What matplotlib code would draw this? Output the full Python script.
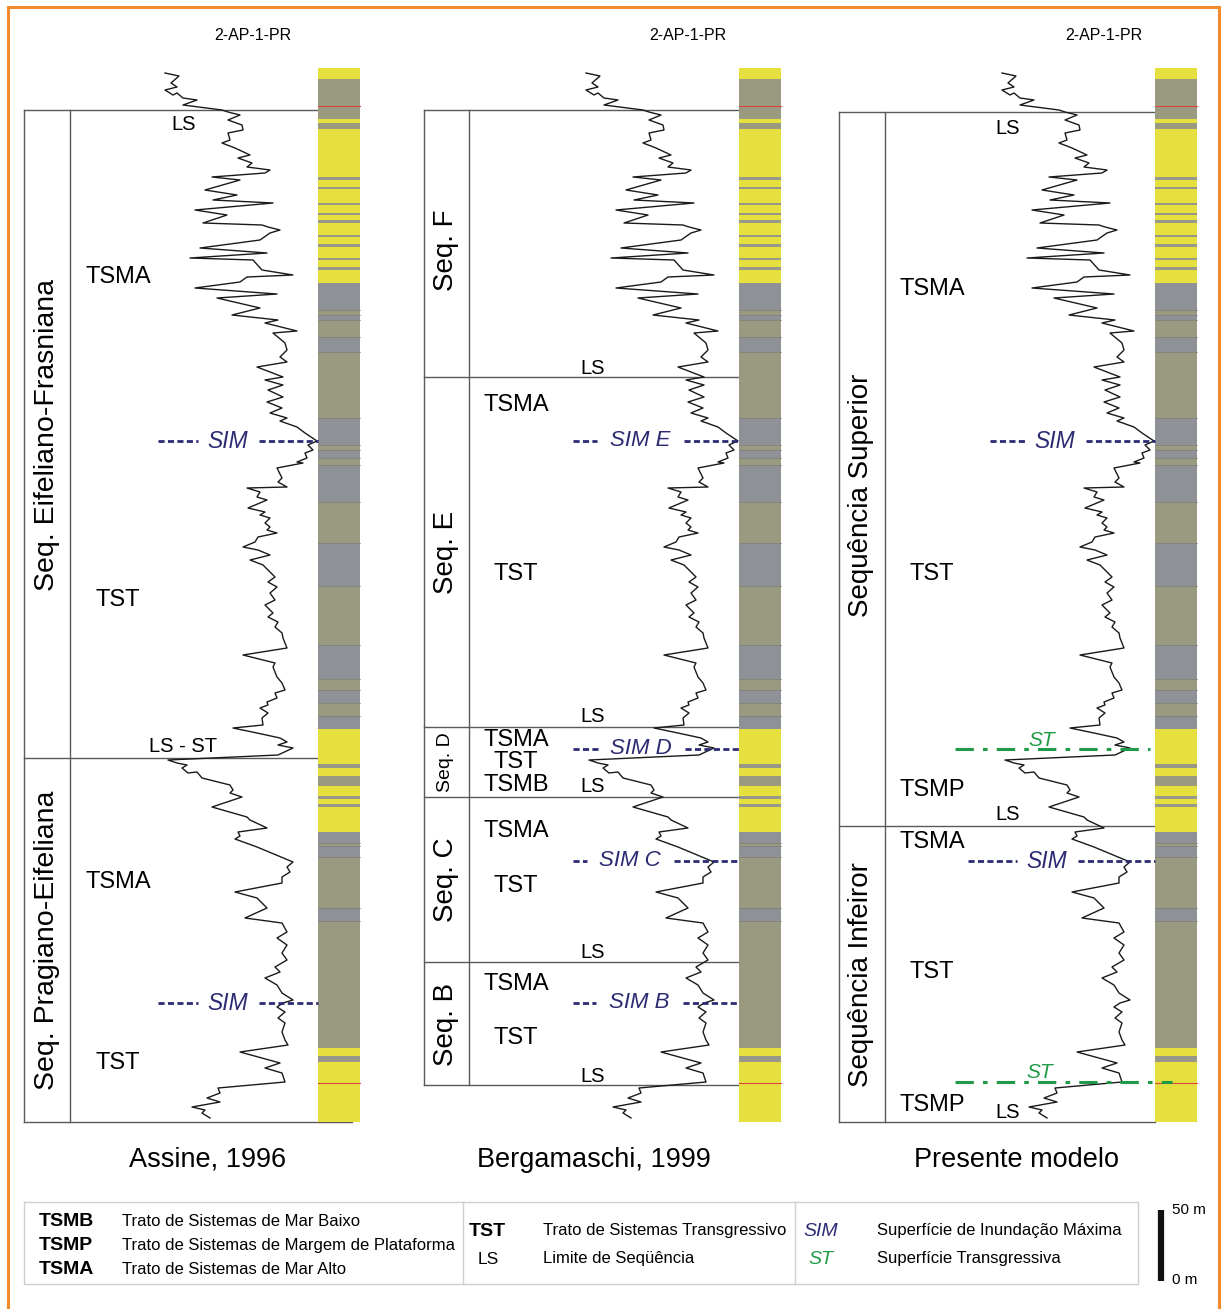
import matplotlib
matplotlib.use("Agg")
import matplotlib.pyplot as plt
import numpy as np

plt.rcParams['font.family'] = ['Liberation Sans', 'DejaVu Sans']

# ---------------- data ----------------
# gamma-ray style log (value = horizontal position in panel-1 frame, depth = vertical log position)
gr_value = [165,179,171,177,165,173,177,183,197,183,222,228,240,228,242,243,228,230,222,235,
            250,238,252,247,270,265,212,240,205,237,213,273,195,227,203,262,268,280,270,260,
            200,267,190,253,262,293,247,240,195,277,217,260,232,278,265,297,273,285,287,280,
            287,257,283,265,283,268,283,267,282,270,287,280,297,305,317,308,313,305,307,297,
            303,277,282,278,287,247,260,257,267,248,265,260,270,265,270,267,277,258,255,243,
            258,270,250,263,275,268,277,270,275,265,273,268,278,275,282,283,287,243,275,273,
            277,282,285,275,277,267,268,260,268,262,263,233,257,280,287,278,293,278,168,177,
            187,182,188,197,202,230,233,230,242,233,212,247,250,267,238,240,235,257,293,287,
            290,282,282,235,257,267,245,282,287,277,287,282,287,275,280,265,277,282,293,283,
            277,285,278,285,282,285,288,240,280,265,282,285,218,220,207,220,192,205,202,210]
gr_depth = [73,76,83,87,90,95,93,98,100,105,110,112,115,120,125,130,133,140,143,148,
            155,158,163,167,170,173,177,180,190,195,200,203,210,215,223,225,227,230,233,240,
            248,253,258,260,270,275,277,282,288,294,298,308,315,320,323,331,333,343,350,357,
            362,367,377,380,385,390,397,402,408,413,418,421,427,433,441,445,450,453,458,462,
            463,468,478,482,487,488,492,497,500,508,512,515,518,523,527,530,533,537,542,547,
            550,555,560,565,577,582,587,593,600,605,613,617,622,627,633,638,648,655,663,667,
            677,683,690,693,698,702,705,708,713,718,725,728,733,738,742,745,748,755,760,763,
            765,768,773,772,778,785,790,793,797,800,807,817,820,828,832,836,839,847,862,867,
            872,877,883,892,898,908,918,923,932,938,945,953,960,967,972,978,985,993,1000,1003,
            1007,1012,1018,1023,1032,1040,1045,1052,1063,1068,1073,1082,1088,1093,1098,1102,1107,1110,1113,1118]

# lithology column: top, base, class
lith_top  = [68,79,119,123,129,177,180,187,189,203,205,213,215,220,223,235,237,244,247,258,260,267,270,
             283,310,315,320,337,352,418,445,450,458,465,502,543,586,645,679,690,703,716,
             729,764,768,776,786,796,799,804,807,832,843,846,857,908,921,1048,1056,1062]
lith_base = lith_top[1:] + [1122]
lith_kind = ['Y','O','Y','O','Y','S','Y','S','Y','S','Y','S','Y','S','Y','S','Y','S','Y','S','Y','S','Y',
             'G','O','G','O','G','O','G','O','G','O','G','O','G','O','G','O','G','O','G',
             'Y','S','Y','O','Y','S','Y','S','Y','G','O','G','O','G','O','Y','S','Y']
red_marks = [106, 1083]

panel_names = ['Assine, 1996', 'Bergamaschi, 1999', 'Presente modelo']
well_name = '2-AP-1-PR'

# ---------------- layout (pixels) ----------------
W, H = 1225, 1309
offsets = [0, 421, 837]
col_left, col_w = 318, 42
title_x = [253, 688, 1104]
name_x = [208, 594, 1016]

box_left  = [24, 424, 839]
box_inner = [70, 469, 885]
box_right = [318, 739, 1155]
box_top   = [110, 110, 112]
box_bot   = [1122, 1085, 1122]
box_bot_right = [352, 739, 1155]
box_hlines = [[758], [377, 727, 797, 962], [826]]

seq_labels = [
    (0, 'Seq. Eifeliano-Frasniana', 435, 20.5), (0, 'Seq. Pragiano-Eifeliana', 940, 20.5),
    (1, 'Seq. F', 250, 20), (1, 'Seq. E', 552, 20), (1, 'Seq. D', 762, 14),
    (1, 'Seq. C', 880, 20), (1, 'Seq. B', 1024, 20),
    (2, 'Sequência Superior', 495, 20), (2, 'Sequência Infeiror', 975, 20),
]
seq_x = [47, 446, 861]

tract_labels = [
    (118, 277, 'TSMA'), (118, 600, 'TST'), (118, 882, 'TSMA'), (118, 1063, 'TST'),
    (516, 405, 'TSMA'), (516, 574, 'TST'), (516, 740, 'TSMA'), (516, 762, 'TST'), (516, 785, 'TSMB'),
    (516, 831, 'TSMA'), (516, 886, 'TST'), (516, 984, 'TSMA'), (516, 1038, 'TST'),
    (932, 289, 'TSMA'), (932, 574, 'TST'), (932, 790, 'TSMP'), (932, 842, 'TSMA'),
    (932, 972, 'TST'), (932, 1105, 'TSMP'),
]
ls_labels = [
    (184, 124, 'LS'), (183, 747, 'LS - ST'),
    (593, 368, 'LS'), (593, 716, 'LS'), (593, 787, 'LS'), (593, 952, 'LS'), (593, 1076, 'LS'),
    (1008, 128, 'LS'), (1008, 815, 'LS'), (1008, 1112, 'LS'),
]
sim_lines = [
    (441, 158, 318, 'SIM', 228), (1003, 158, 318, 'SIM', 228),
    (441, 573, 739, 'SIM E', 640), (749, 573, 739, 'SIM D', 641),
    (861, 573, 739, 'SIM C', 630), (1003, 573, 739, 'SIM B', 639),
    (441, 990, 1155, 'SIM', 1055), (861, 968, 1155, 'SIM', 1047),
]
st_lines = [(749, 955, 1150, 'ST', 1042), (1082, 955, 1172, 'ST', 1040)]

colors = {'Y': '#e6e03e', 'O': '#9a9a80', 'G': '#8e9196', 'S': '#98988a'}
NAVY = '#2b2a72'
GREEN = '#1f9a46'
BOXC = '#5a5a5a'

fig = plt.figure(figsize=(W / 100, H / 100), dpi=100)
ax = fig.add_axes([0, 0, 1, 1])
ax.set_xlim(0, W)
ax.set_ylim(H, 0)
ax.axis('off')

# orange frame
ax.plot([8, 8, 1219, 1219], [1320, 7, 7, 1320], color='#f2892a', lw=2.2, solid_joinstyle='miter')

gv = np.array(gr_value, float)
gd = np.array(gr_depth, float)
lt = np.array(lith_top, float)
lb = np.array(lith_base, float)

for p in range(3):
    off = offsets[p]
    # box
    ax.plot([box_left[p], box_left[p]], [box_top[p], box_bot[p]], color=BOXC, lw=1.0)
    ax.plot([box_inner[p], box_inner[p]], [box_top[p], box_bot[p]], color=BOXC, lw=1.0)
    ax.plot([box_left[p], box_right[p]], [box_top[p], box_top[p]], color=BOXC, lw=1.0)
    ax.plot([box_left[p], box_bot_right[p]], [box_bot[p], box_bot[p]], color=BOXC, lw=1.0)
    for hy in box_hlines[p]:
        ax.plot([box_left[p], box_right[p]], [hy, hy], color=BOXC, lw=1.0)
    # lithology column
    ax.bar([col_left + off + col_w / 2] * len(lt), lb - lt, bottom=lt, width=col_w,
           color=[colors[k] for k in lith_kind], edgecolor='none', zorder=3)
    for t, k, kprev in zip(lt[1:], lith_kind[1:], lith_kind[:-1]):
        if k != 'Y' and kprev != 'Y':
            ax.plot([col_left + off, col_left + off + col_w], [t, t], color='#7c7c78', lw=0.5, zorder=4)
    for r in red_marks:
        ax.plot([col_left + off, col_left + off + col_w], [r, r], color='#d8453a', lw=0.8, zorder=4)
    # log curve
    ax.plot(gv + off, gd, color='#1a1a1a', lw=1.0, zorder=5)
    # well name & panel name
    ax.text(title_x[p], 36, well_name, ha='center', va='center', fontsize=11.5)
    ax.text(name_x[p], 1160, panel_names[p], ha='center', va='center', fontsize=19.5)

for p, lab, yc, fs in seq_labels:
    ax.text(seq_x[p], yc, lab, rotation=90, ha='center', va='center', fontsize=fs)

for x, y, lab in tract_labels:
    ax.text(x, y, lab, ha='center', va='center', fontsize=17)
for x, y, lab in ls_labels:
    ax.text(x, y, lab, ha='center', va='center', fontsize=14.5)

for y, x0, x1, lab, lx in sim_lines:
    half = 6.5 * len(lab) + 11
    for a, b in [(x0, lx - half), (lx + half, x1)]:
        ax.plot([a, b], [y, y], color=NAVY, lw=2.0, ls=(0, (2.2, 1.2)), zorder=6)
    ax.text(lx, y, lab, ha='center', va='center', fontsize=16.5 if len(lab) == 3 else 16,
            style='italic', color=NAVY, zorder=7)

for y, x0, x1, lab, lx in st_lines:
    ax.plot([x0, x1], [y, y], color=GREEN, lw=2.2, ls=(0, (6, 3, 1.5, 3)), zorder=6)
    ax.text(lx, y - 9, lab, ha='center', va='center', fontsize=15, style='italic', color=GREEN, zorder=7)

# ---------------- legend ----------------
ax.plot([24, 1138, 1138, 24, 24], [1202, 1202, 1284, 1284, 1202], color='#cfcfcf', lw=1.0)
for xv in [463, 795]:
    ax.plot([xv, xv], [1202, 1284], color='#cfcfcf', lw=1.0)

leg_abbr = ['TSMB', 'TSMP', 'TSMA']
leg_desc = ['Trato de Sistemas de Mar Baixo', 'Trato de Sistemas de Margem de Plataforma',
            'Trato de Sistemas de Mar Alto']
for i, (a, d) in enumerate(zip(leg_abbr, leg_desc)):
    yy = 1221 + 24.5 * i
    ax.text(39, yy, a, ha='left', va='center', fontsize=14, fontweight='bold')
    ax.text(122, yy, d, ha='left', va='center', fontsize=12)
ax.text(469, 1231, 'TST', ha='left', va='center', fontsize=14, fontweight='bold')
ax.text(543, 1230, 'Trato de Sistemas Transgressivo', ha='left', va='center', fontsize=12)
ax.text(488, 1259, 'LS', ha='center', va='center', fontsize=12.5)
ax.text(543, 1258, 'Limite de Seqüência', ha='left', va='center', fontsize=12)
ax.text(821, 1231, 'SIM', ha='center', va='center', fontsize=14, style='italic', color=NAVY)
ax.text(821, 1259, 'ST', ha='center', va='center', fontsize=14, style='italic', color=GREEN)
ax.text(877, 1230, 'Superfície de Inundação Máxima', ha='left', va='center', fontsize=12)
ax.text(877, 1258, 'Superfície Transgressiva', ha='left', va='center', fontsize=12)

# scale bar 0-50 m
ax.plot([1161, 1161], [1210, 1281], color='#111111', lw=4.5, solid_capstyle='butt')
ax.text(1172, 1210, '50 m', ha='left', va='center', fontsize=11)
ax.text(1172, 1280, '0 m', ha='left', va='center', fontsize=11)

fig.savefig('out.png', dpi=100)
